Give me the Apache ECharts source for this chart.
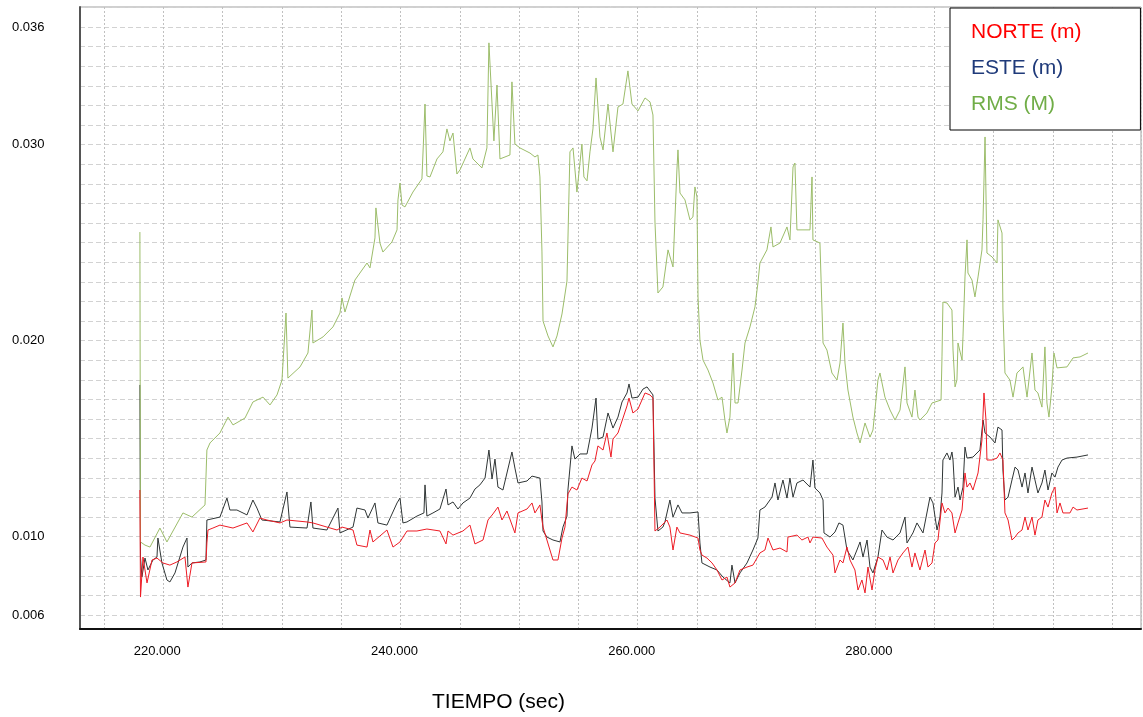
<!DOCTYPE html>
<html>
<head>
<meta charset="utf-8">
<script src="https://cdn.jsdelivr.net/npm/echarts@6/dist/echarts.min.js"></script>
<style>
html,body{margin:0;padding:0;background:#fff;}
#chart{width:1143px;height:717px;}
</style>
</head>
<body>
<div id="chart"></div>
<script>
// ---- data (time in seconds, values in metres) ----
const legendNames = ['NORTE (m)', 'ESTE (m)', 'RMS (M)'];
const xLabelValues = [220000, 240000, 260000, 280000];
const yLabelValues = [0.036, 0.030, 0.020, 0.010, 0.006];
const axisTitle = 'TIEMPO (sec)';

const rmsTime = [218030,218080,218460,218880,219720,220310,221660,222420,223520,223680,223940,224780,225460,225880,226890,227560,228410,229000,229590,230010,230350,230510,231530,232200,232540,232620,233470,234310,234900,235070,235320,236160,237180,237430,237850,237930,238270,238520,239280,239710,239790,239960,240130,240380,241050,241810,242070,242230,242490,243080,243580,243920,244170,244430,244760,245020,245860,246110,246870,247290,247460,247720,247880,248140,248390,249230,249400,249650,250080,250920,251340,251590,251760,251930,252020,252440,252860,253200,253620,254040,254290,254550,254880,255300,255470,255730,255980,256230,256490,256820,257080,257500,257920,258340,258760,259180,259520,260030,260620,261040,261290,261460,261710,262130,262560,262980,263310,263400,263570,263990,264410,264660,264830,265000,265090,265250,265510,265930,266350,266770,267110,267360,267530,267780,268040,268210,268460,268800,269050,269470,269890,270140,270310,270900,271240,271410,272000,272590,272840,273100,273260,273430,273940,274530,274700,274780,275370,275630,275960,276380,276810,277060,277310,277480,277730,278150,278490,278750,279170,279590,279840,280260,280430,280850,281280,281700,282120,282540,282710,283130,283380,283640,283800,284390,284820,285580,285660,285740,286080,286500,286590,286760,286920,287010,287350,287430,287600,287770,287850,288190,288440,288700,289030,289120,289290,289450,289880,290300,290380,290720,290800,290970,291390,291650,291980,292240,292490,292830,293250,293500,293750,294090,294340,294510,294680,294930,295100,295360,296200,296710,297300,297970];
const rmsValue = [0.02554,0.00973,0.00957,0.00947,0.01044,0.00973,0.01121,0.01100,0.01162,0.01442,0.01478,0.01529,0.01610,0.01570,0.01605,0.01687,0.01712,0.01672,0.01723,0.01799,0.02141,0.01809,0.01866,0.01937,0.02156,0.01988,0.02019,0.02070,0.02141,0.02218,0.02146,0.02309,0.02396,0.02371,0.02524,0.02677,0.02498,0.02452,0.02503,0.02565,0.02718,0.02804,0.02692,0.02682,0.02758,0.02825,0.03207,0.02840,0.02835,0.02927,0.02963,0.03080,0.03019,0.03059,0.02850,0.02871,0.02983,0.02927,0.02881,0.02983,0.03519,0.03207,0.03019,0.03304,0.02927,0.02947,0.03320,0.03003,0.02983,0.02957,0.02937,0.02947,0.02835,0.02457,0.02100,0.02024,0.01968,0.02024,0.02136,0.02304,0.02963,0.02983,0.02758,0.03003,0.02835,0.02815,0.02963,0.03080,0.03340,0.03039,0.02973,0.03207,0.02963,0.03192,0.03207,0.03376,0.03207,0.03172,0.03238,0.03218,0.03151,0.02605,0.02243,0.02274,0.02463,0.02376,0.02871,0.02973,0.02753,0.02718,0.02616,0.02631,0.02784,0.02733,0.02223,0.02003,0.01901,0.01850,0.01784,0.01697,0.01712,0.01595,0.01529,0.01610,0.01937,0.01682,0.01682,0.01850,0.01988,0.02070,0.02172,0.02294,0.02396,0.02463,0.02580,0.02478,0.02498,0.02580,0.02514,0.02886,0.02906,0.02565,0.02565,0.02565,0.02835,0.02514,0.02498,0.01988,0.01952,0.01835,0.01799,0.01886,0.02090,0.01886,0.01748,0.01610,0.01529,0.01478,0.01580,0.01508,0.01544,0.01799,0.01835,0.01712,0.01646,0.01595,0.01646,0.01866,0.01682,0.01610,0.01748,0.01610,0.01595,0.01631,0.01682,0.01697,0.01917,0.02197,0.02192,0.02156,0.01952,0.01764,0.01799,0.01988,0.01901,0.02019,0.02325,0.02514,0.02345,0.02309,0.02223,0.02325,0.02463,0.02616,0.03039,0.02447,0.02427,0.02396,0.02616,0.02549,0.02156,0.01835,0.01799,0.01712,0.01835,0.01850,0.01866,0.01712,0.01937,0.01748,0.01733,0.01661,0.01968,0.01682,0.01610,0.01764,0.01937,0.01861,0.01866,0.01912,0.01917,0.01937];

const esteTime = [218030,218080,218200,218460,218710,219130,219470,219550,219890,220310,220560,220990,221660,222000,222080,222420,223090,223600,223680,224780,225370,225620,226210,227060,227560,227900,228320,229840,230430,230680,232120,232450,232620,233800,234730,234900,236000,236330,237010,237260,237850,238100,238860,239710,239960,240210,240550,241390,241980,242070,242230,242740,243330,243840,244010,244430,244850,245270,245860,246280,246700,247130,247460,247720,247970,248220,248640,249400,249650,249910,250670,251090,251760,251930,252020,252350,252860,253450,253700,254040,254120,254460,254710,255140,255730,256150,256490,256650,257080,257500,257920,258340,258680,259100,259270,259520,260030,260450,260790,261290,261460,261710,262130,262300,262720,262980,263400,263740,264410,265090,265250,265420,266100,266690,267190,267780,267950,268210,268630,269220,269720,270140,270310,270730,271330,271580,271830,272250,272590,272840,273100,273430,273940,274530,274780,274950,275370,275630,275710,276220,276640,276970,277310,277650,278150,278490,278750,279000,279340,279590,279840,280260,280600,281020,281530,282120,282540,282710,283210,283550,284060,284650,284900,285240,285490,285660,285740,286080,286330,286500,286590,286760,287010,287180,287430,287600,287770,288270,288860,289120,289290,289710,290130,290380,290720,290800,290970,291230,291560,291820,292070,292410,292660,292910,293250,293500,293750,294090,294340,294600,294930,295190,295440,295780,296200,297040,297970];
const esteValue = [0.01774,0.00896,0.00794,0.00891,0.00830,0.00881,0.00896,0.00993,0.00866,0.00779,0.00769,0.00815,0.00947,0.00993,0.00845,0.00866,0.00871,0.00881,0.01085,0.01100,0.01197,0.01136,0.01136,0.01111,0.01187,0.01146,0.01085,0.01075,0.01228,0.01049,0.01044,0.01177,0.01044,0.01034,0.01146,0.01019,0.01049,0.01146,0.01136,0.01095,0.01172,0.01070,0.01059,0.01172,0.01197,0.01070,0.01075,0.01105,0.01121,0.01264,0.01105,0.01121,0.01141,0.01243,0.01162,0.01177,0.01141,0.01172,0.01197,0.01243,0.01264,0.01299,0.01442,0.01294,0.01396,0.01253,0.01238,0.01432,0.01350,0.01274,0.01284,0.01309,0.01299,0.01177,0.01029,0.00998,0.00983,0.00973,0.01049,0.01105,0.01238,0.01463,0.01396,0.01422,0.01422,0.01554,0.01707,0.01498,0.01508,0.01631,0.01554,0.01610,0.01687,0.01733,0.01779,0.01707,0.01712,0.01753,0.01764,0.01723,0.01197,0.01029,0.01049,0.01075,0.01187,0.01100,0.01162,0.01121,0.01121,0.01126,0.00968,0.00866,0.00845,0.00830,0.00794,0.00764,0.00855,0.00764,0.00815,0.00866,0.00932,0.00993,0.01136,0.01151,0.01202,0.01274,0.01187,0.01289,0.01197,0.01299,0.01202,0.01274,0.01289,0.01253,0.01391,0.01248,0.01223,0.01187,0.01019,0.00998,0.01024,0.01070,0.01059,0.00932,0.00881,0.00932,0.00973,0.00896,0.00983,0.00845,0.00815,0.00896,0.01034,0.00998,0.00983,0.01019,0.01100,0.00968,0.01019,0.01070,0.01019,0.01202,0.01172,0.01034,0.01100,0.01223,0.01391,0.01427,0.01391,0.01432,0.01391,0.01202,0.01253,0.01187,0.01253,0.01457,0.01401,0.01406,0.01442,0.01595,0.01529,0.01508,0.01478,0.01559,0.01544,0.01340,0.01187,0.01202,0.01289,0.01355,0.01340,0.01253,0.01325,0.01223,0.01355,0.01289,0.01223,0.01274,0.01340,0.01238,0.01325,0.01304,0.01355,0.01391,0.01401,0.01406,0.01417];

const norteTime = [218030,218080,218290,218630,219050,219470,219970,220560,221150,221830,222080,222420,223600,223680,223770,224190,224780,225880,227060,227560,228150,228740,229840,230430,232120,232620,233800,234650,235070,236000,236330,237180,237430,237680,238860,239370,239960,240550,241390,242230,243330,243840,244010,244430,245270,245860,246280,246960,247380,247800,248220,248560,248980,249650,249910,250670,251090,251340,251760,251930,252020,252350,252860,253280,253620,253870,254120,254460,254880,255300,255730,256150,256400,256650,257080,257410,257750,257920,258340,258680,259100,259270,259600,260030,260620,261040,261290,261460,261880,262470,262720,262980,263310,263570,264410,265090,265250,265420,265840,266270,266690,267110,267530,267780,268210,268630,269220,269720,270310,270730,270990,271410,272000,272590,272670,273430,273850,274360,274530,274780,275540,275960,276470,276640,277060,277310,277650,277900,278320,278580,278910,279170,279420,279760,280010,280260,280690,281020,281280,281530,281950,282370,282790,283130,283380,283800,284230,284480,284820,285070,285320,285660,285910,286170,286500,286760,287010,287350,287600,287770,288020,288270,288700,289030,289200,289370,289450,289880,290300,290550,290800,290970,291230,291560,291820,292070,292410,292660,292910,293250,293500,293750,294090,294340,294600,294930,295190,295360,295610,295860,296450,296710,297040,297970];
const norteValue = [0.01238,0.00692,0.00896,0.00764,0.00881,0.00891,0.00866,0.00855,0.00871,0.00896,0.00743,0.00866,0.00871,0.00968,0.01034,0.01044,0.01059,0.01044,0.01070,0.01024,0.01095,0.01085,0.01070,0.01085,0.01075,0.01070,0.01049,0.01034,0.01049,0.01034,0.00957,0.00947,0.01034,0.00973,0.01034,0.00947,0.00973,0.01029,0.01029,0.01039,0.01029,0.00963,0.01029,0.01008,0.01029,0.01059,0.00963,0.00983,0.01085,0.01116,0.01151,0.01085,0.01131,0.01019,0.01121,0.01141,0.01172,0.01121,0.01162,0.01085,0.01049,0.00983,0.00881,0.00881,0.00993,0.01049,0.01218,0.01253,0.01238,0.01299,0.01284,0.01366,0.01386,0.01463,0.01442,0.01529,0.01406,0.01498,0.01529,0.01590,0.01667,0.01707,0.01631,0.01651,0.01733,0.01723,0.01707,0.01029,0.01049,0.01085,0.01049,0.00932,0.01049,0.01019,0.01008,0.00993,0.00932,0.00906,0.00891,0.00866,0.00830,0.00779,0.00794,0.00743,0.00764,0.00830,0.00845,0.00855,0.00917,0.00932,0.00993,0.00932,0.00942,0.00922,0.00998,0.01008,0.00983,0.00998,0.00968,0.00998,0.00993,0.00947,0.00906,0.00815,0.00881,0.00866,0.00947,0.00881,0.00830,0.00728,0.00779,0.00713,0.00845,0.00728,0.00830,0.00896,0.00881,0.00830,0.00896,0.00815,0.00881,0.00917,0.00947,0.00845,0.00917,0.00830,0.00932,0.00845,0.00866,0.00968,0.00983,0.01172,0.01121,0.01146,0.01121,0.01019,0.01070,0.01136,0.01325,0.01253,0.01274,0.01238,0.01325,0.01493,0.01733,0.01595,0.01391,0.01391,0.01401,0.01427,0.01391,0.01121,0.01085,0.00983,0.00998,0.01019,0.01034,0.01100,0.01034,0.01100,0.01008,0.01085,0.01100,0.01187,0.01151,0.01223,0.01253,0.01121,0.01172,0.01121,0.01121,0.01151,0.01136,0.01146];

function zip(t, v) { return t.map((x, i) => [x, v[i]]); }

const FONT = 'Liberation Sans, Arial, Helvetica, sans-serif';
const chart = echarts.init(document.getElementById('chart'), null, { renderer: 'canvas' });

function fmtThousands(v) {
  const k = Math.round(v / 1000);
  return k + '.000';
}

chart.setOption({
  animation: false,
  backgroundColor: '#ffffff',
  textStyle: { fontFamily: FONT },
  title: {
    text: axisTitle,
    left: 432,
    top: 692,
    padding: 0,
    textStyle: { fontFamily: FONT, fontSize: 21, fontWeight: 'normal', color: '#000' }
  },
  legend: {
    orient: 'vertical',
    left: 950,
    top: 8,
    icon: 'rect',
    itemWidth: 0,
    itemHeight: 0,
    itemGap: 15,
    padding: [14, 59, 15, 16],
    backgroundColor: '#ffffff',
    borderColor: '#000000',
    borderWidth: 1,
    selectedMode: false,
    textStyle: { fontFamily: FONT, fontSize: 21 },
    data: [
      { name: legendNames[0], textStyle: { color: '#ff0000' } },
      { name: legendNames[1], textStyle: { color: '#1f3a7a' } },
      { name: legendNames[2], textStyle: { color: '#70ad47' } }
    ]
  },
  grid: {
    left: 80, right: 2, top: 7, bottom: 88,
    show: true, borderColor: '#a0a0a0', borderWidth: 1, backgroundColor: '#ffffff'
  },
  xAxis: {
    type: 'value',
    min: 212980,
    max: 302440,
    splitNumber: 18,
    minInterval: 5000,
    maxInterval: 5000,
    axisLine: { show: true, onZero: false, lineStyle: { color: '#111', width: 2 } },
    axisTick: { show: false },
    axisLabel: {
      show: true,
      margin: 16,
      fontSize: 13,
      fontFamily: FONT,
      color: '#000',
      padding: [0, 12, 0, 0],
      showMinLabel: false,
      showMaxLabel: false,
      formatter: function (v) {
        for (const t of xLabelValues) { if (Math.abs(v - t) < 1) return fmtThousands(v); }
        return '';
      }
    },
    splitLine: { show: true, lineStyle: { color: '#c0c0c0', width: 1, type: [2, 2] } }
  },
  yAxis: {
    type: 'value',
    min: 0.00529,
    max: 0.03702,
    splitNumber: 32,
    minInterval: 0.001,
    maxInterval: 0.001,
    axisLine: { show: true, onZero: false, lineStyle: { color: '#555', width: 2 } },
    axisTick: { show: false },
    axisLabel: {
      show: true,
      align: 'left',
      margin: 68,
      fontSize: 13,
      fontFamily: FONT,
      color: '#000',
      showMinLabel: false,
      showMaxLabel: false,
      formatter: function (v) {
        for (const t of yLabelValues) { if (Math.abs(v - t) < 1e-6) return t.toFixed(3); }
        return '';
      }
    },
    splitLine: { show: true, lineStyle: { color: '#d2d2d2', width: 1, type: [5, 3] } }
  },
  series: [
    {
      name: legendNames[0], type: 'line', data: zip(norteTime, norteValue),
      showSymbol: false, symbol: 'none', z: 3,
      lineStyle: { color: '#ee1c25', width: 1 }, itemStyle: { color: '#ee1c25' }
    },
    {
      name: legendNames[1], type: 'line', data: zip(esteTime, esteValue),
      showSymbol: false, symbol: 'none', z: 2,
      lineStyle: { color: '#2f3535', width: 1 }, itemStyle: { color: '#2f3535' }
    },
    {
      name: legendNames[2], type: 'line', data: zip(rmsTime, rmsValue),
      showSymbol: false, symbol: 'none', z: 2,
      lineStyle: { color: '#9cbd6a', width: 1 }, itemStyle: { color: '#9cbd6a' }
    }
  ]
});
</script>
</body>
</html>
